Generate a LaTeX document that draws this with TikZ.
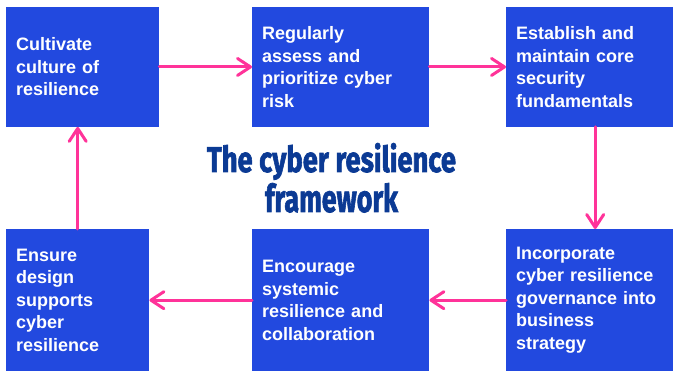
\documentclass[tikz,border=0pt]{standalone}
\usepackage{fontspec}
\setmainfont{Liberation Sans}
\newfontfamily\titlefont[BoldFeatures={FakeBold=2}]{Fira Sans}
\usetikzlibrary{arrows.meta}
\definecolor{boxblue}{HTML}{2249DF}
\definecolor{flowpink}{HTML}{FF3399}
\definecolor{titlenavy}{HTML}{0B3A94}
% bold box lettering with wide word gaps
\DeclareRobustCommand{\stagefont}{\bfseries\fontsize{18}{22.5}\selectfont
  \spaceskip=12pt plus 1pt minus 1pt\relax}
\tikzset{
  stage/.style={rectangle, fill=boxblue, draw=none, anchor=north west,
    inner xsep=10pt, inner ysep=0pt, align=left, text=white,
    font=\stagefont},
  flow/.style={draw=flowpink, line width=3pt, line cap=round,
    -{Straight Barb[length=13pt, width=17pt, line width=3pt, round]}},
  headline/.style={text=titlenavy, anchor=base, inner sep=0pt,
    font=\titlefont\bfseries}
}
\begin{document}
\begin{tikzpicture}[x=1pt, y=-1pt]
  \useasboundingbox (0,0) rectangle (675,371);
  % top row
  \node[stage, minimum width=153pt, minimum height=119.5pt, text width=133pt] (cultivate) at (6,7)
    {Cultivate\\culture of\\resilience};
  \node[stage, minimum width=177pt, minimum height=119.5pt, text width=157pt] (assess) at (252,7)
    {Regularly\\assess and\\prioritize cyber\\risk};
  \node[stage, minimum width=167pt, minimum height=119.5pt, text width=147pt] (establish) at (506,7)
    {Establish and\\maintain core\\security\\fundamentals};
  % bottom row
  \node[stage, minimum width=143pt, minimum height=142pt, text width=123pt] (ensure) at (6,229)
    {Ensure\\design\\supports\\cyber\\resilience};
  \node[stage, minimum width=177pt, minimum height=142pt, text width=157pt] (encourage) at (252,229)
    {Encourage\\systemic\\resilience and\\collaboration};
  \node[stage, minimum width=167pt, minimum height=142pt, text width=147pt] (incorporate) at (506,229)
    {Incorporate\\cyber resilience\\governance into\\business\\strategy};
  % heading
  \node[headline] (titleA) at (331.5,172) {\resizebox{249pt}{29pt}{The cyber resilience}};
  \node[headline] (titleB) at (331.5,212) {\resizebox{133pt}{29pt}{framework}};
  % cycle of arrows
  \draw[flow] (cultivate.east) -- (assess.west);
  \draw[flow] (assess.east) -- (establish.west);
  \draw[flow] ([xshift=5.5pt]establish.south) -- ([xshift=5.5pt]incorporate.north);
  \draw[flow] (incorporate.west) -- (encourage.east);
  \draw[flow] (encourage.west) -- (ensure.east);
  \draw[flow] (ensure.north) -- (ensure.north |- cultivate.south);
\end{tikzpicture}
\end{document}
